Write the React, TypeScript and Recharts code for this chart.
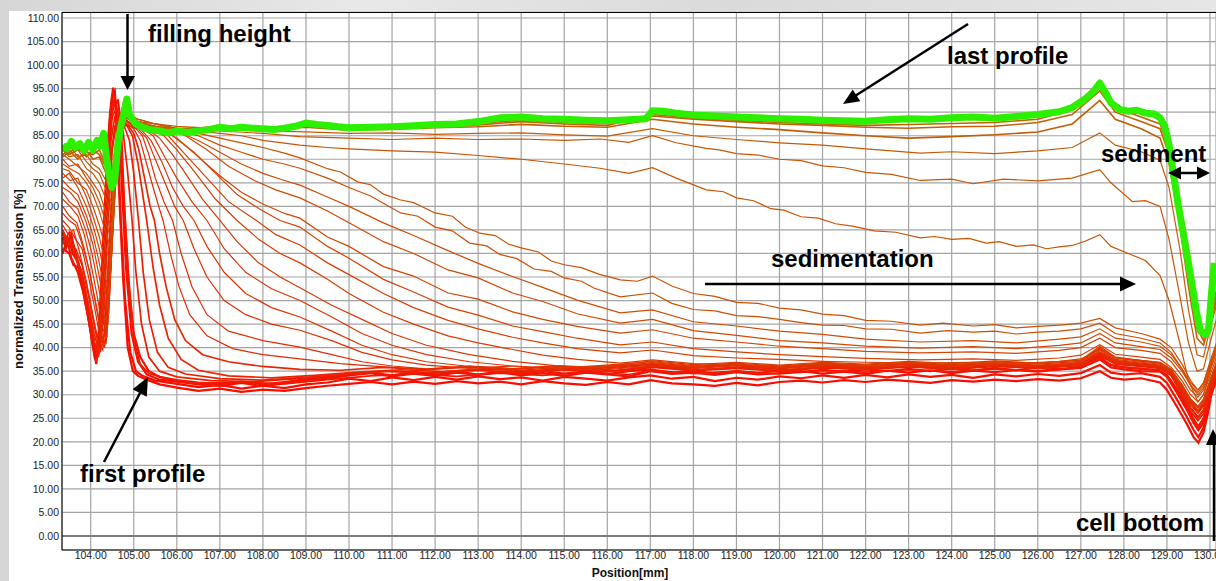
import React from 'react'
import { LineChart, Line, XAxis, YAxis, CartesianGrid, ReferenceLine } from 'recharts'

type Pt = [number, number]

const X_MIN = 103.333
const X_MAX = 130.14
const Y_MIN = -2.973
const Y_MAX = 111.274

const xTicks = [104, 105, 106, 107, 108, 109, 110, 111, 112, 113, 114, 115, 116, 117, 118, 119, 120, 121, 122, 123, 124, 125, 126, 127, 128, 129, 130]
const yTicks = [0, 5, 10, 15, 20, 25, 30, 35, 40, 45, 50, 55, 60, 65, 70, 75, 80, 85, 90, 95, 100, 105, 110]

// early profiles (red band)
const p00: Pt[] = [[103.35,63.5],[103.42,61],[103.5,63],[103.58,60],[103.68,58.5],[103.8,54],[103.92,48],[104.02,42],[104.1,37.5],[104.18,42],[104.28,60],[104.36,76],[104.45,90],[104.52,95.2],[104.58,91],[104.65,75],[104.75,55],[104.86,40],[104.98,35],[105.1,34],[105.3,33.2],[105.6,32.2],[106,31.5],[106.5,30.8],[107,31.3],[107.5,30.6],[108,31.1],[108.5,30.8],[109,31.4],[109.5,31.9],[110,32.3],[110.5,32.7],[111,32.2],[111.5,32.8],[112,32.3],[112.5,32.9],[113,32.4],[113.5,32.8],[114,32.2],[114.5,32.9],[115,32.4],[115.5,32.1],[116,32.7],[116.5,32.2],[117,33.1],[117.5,32.4],[118,32.2],[118.5,31.9],[119,32.5],[119.5,32],[120,32.7],[120.5,33],[121,32.6],[121.5,33.1],[122,32.7],[122.5,33.2],[123,32.9],[123.5,32.5],[124,33.1],[124.5,32.8],[125,33.2],[125.5,32.9],[126,33.3],[126.5,33],[127,33.5],[127.44,35],[127.7,33.6],[128,33.2],[128.4,33.5],[128.84,32.6],[129,31],[129.23,27.5],[129.45,24],[129.62,21],[129.73,19.8],[129.85,22],[129.95,26],[130.05,31],[130.15,34]]
const p01: Pt[] = [[103.35,64.5],[103.45,62],[103.55,64],[103.65,59.5],[103.78,56],[103.9,50],[104,44],[104.08,39],[104.13,36.5],[104.22,46],[104.32,68],[104.42,86],[104.5,93.5],[104.56,94.5],[104.62,85],[104.7,67],[104.8,50],[104.92,39],[105.05,35],[105.2,34],[105.5,33],[106,32.3],[106.5,31.6],[107,32.1],[107.5,31.3],[108,31.9],[108.5,31.4],[109,32.2],[109.5,32.6],[110,33.4],[110.5,32.9],[111,33.7],[111.5,33.1],[112,33.8],[112.5,33.2],[113,33.9],[113.5,33.3],[114,33.7],[114.5,33],[115,33.8],[115.5,33.4],[116,33],[116.5,33.7],[117,34.1],[117.5,33.4],[118,33.8],[118.5,32.9],[119,33.6],[119.5,33.2],[120,33.9],[120.5,33.5],[121,34.1],[121.5,33.6],[122,34.2],[122.5,33.7],[123,34.3],[123.5,33.8],[124,34.2],[124.5,33.6],[125,34.3],[125.5,33.9],[126,34.4],[126.5,34],[127,34.6],[127.44,36.3],[127.7,34.7],[128,34.3],[128.4,34.6],[128.84,33.8],[129,32.5],[129.23,29],[129.45,25.5],[129.62,22.5],[129.73,21],[129.85,23],[129.95,27],[130.05,31.5],[130.15,34.5]]
const p02: Pt[] = [[103.35,61],[103.5,60],[103.6,57.5],[103.72,57],[103.85,51],[103.97,45],[104.06,40],[104.12,38],[104.2,43],[104.3,63],[104.4,82],[104.48,91],[104.56,93],[104.64,89],[104.72,75],[104.82,57],[104.95,43],[105.1,37],[105.3,34.3],[105.6,33.2],[106,32.8],[106.5,32.2],[107,31.9],[107.5,32.5],[108,31.8],[108.5,32.4],[109,33],[109.5,33.4],[110,34.1],[110.5,34.6],[111,33.9],[111.5,34.5],[112,34],[112.5,34.7],[113,34.2],[113.5,34.8],[114,34.1],[114.5,34.6],[115,34],[115.5,34.7],[116,34.3],[116.5,33.9],[117,35],[117.5,34.4],[118,34.7],[118.5,34.2],[119,34.8],[119.5,34.3],[120,34.6],[120.5,35],[121,34.5],[121.5,34.9],[122,34.4],[122.5,35.1],[123,34.7],[123.5,35.2],[124,34.6],[124.5,35.1],[125,34.8],[125.5,35.2],[126,34.9],[126.5,35.4],[127,35.7],[127.44,37.5],[127.7,35.8],[128,35.4],[128.4,35],[128.84,34.9],[129,33.8],[129.23,30.5],[129.45,27],[129.62,24],[129.73,22.5],[129.85,24],[129.95,27.5],[130.05,32],[130.15,35]]
const p03: Pt[] = [[103.35,60],[103.45,63],[103.55,59],[103.7,56],[103.82,52],[103.95,46],[104.05,41],[104.15,38.5],[104.25,50],[104.35,72],[104.45,88],[104.55,92],[104.63,92.5],[104.7,88],[104.78,70],[104.88,54],[105,43],[105.15,38],[105.35,35],[105.6,33.8],[106,33.1],[106.5,32.6],[107,32.3],[107.5,32.8],[108,32.2],[108.5,32.7],[109,33.3],[109.5,33.8],[110,34.2],[110.5,34.7],[111,34.1],[111.5,34.8],[112,34.2],[112.5,34.9],[113,34.3],[113.5,34.9],[114,34.4],[114.5,35],[115,34.5],[115.5,34.9],[116,34.4],[116.5,35],[117,35.4],[117.5,34.7],[118,35.1],[118.5,34.5],[119,35],[119.5,34.6],[120,35.2],[120.5,34.8],[121,35.3],[121.5,34.9],[122,35.4],[122.5,35],[123,35.5],[123.5,35],[124,35.6],[124.5,35.1],[125,35.7],[125.5,35.2],[126,35.8],[126.5,35.4],[127,36],[127.44,38],[127.7,36.3],[128,35.8],[128.4,35.5],[128.84,35.2],[129,34.2],[129.23,31.2],[129.45,27.8],[129.62,24.8],[129.73,23.3],[129.85,25],[129.95,28.2],[130.05,32.5],[130.15,35.5]]

// steep early front profiles
const p04: Pt[] = [[103.35,62],[103.5,64.5],[103.62,60],[103.75,57],[103.9,50.5],[104.02,44],[104.12,39.5],[104.2,41],[104.3,58],[104.4,78],[104.5,89],[104.58,90.5],[104.66,88],[104.72,80],[104.8,67],[104.9,52],[105,42],[105.15,36.5],[105.35,34.5],[105.8,33.3],[106.5,32.4],[107.5,32.7],[108.5,32.3],[109.5,33.2],[110.5,34],[111.5,34.4],[112.5,33.9],[113.5,34.6],[114.5,34.1],[115.5,34.8],[116.5,34.3],[117,35.2],[118,34.5],[119,35],[120,34.4],[121,35.1],[122,34.8],[123,35.3],[124,34.9],[125,35.5],[126,35.1],[127,35.7],[127.44,37.6],[127.8,36],[128.4,35.6],[128.84,35.2],[129.1,33],[129.35,29],[129.55,25.5],[129.72,23],[129.85,24.5],[130,29],[130.15,33]]
const p05: Pt[] = [[103.35,63],[103.48,61.5],[103.6,62],[103.72,58],[103.85,53],[103.98,46],[104.1,40],[104.18,38],[104.27,47],[104.37,68],[104.47,84],[104.56,89],[104.65,88],[104.75,86],[104.85,78],[104.96,67],[105.05,56],[105.18,45],[105.35,38],[105.6,35],[106,33.8],[106.8,33],[107.8,32.8],[108.8,33.4],[109.8,34.3],[110.8,35],[111.8,34.6],[112.8,35.3],[113.8,34.8],[114.8,35.4],[115.8,34.9],[116.8,35.5],[117.05,36],[118,35.2],[119,35.7],[120,35.1],[121,35.8],[122,35.4],[123,36],[124,35.5],[125,36.1],[126,35.7],[127,36.3],[127.44,38.3],[127.8,36.6],[128.4,36.1],[128.84,35.8],[129.1,34],[129.35,30],[129.55,26.5],[129.72,24.5],[129.85,26],[130,30],[130.15,34]]
const p06: Pt[] = [[103.35,64],[103.5,62.5],[103.65,60],[103.8,55],[103.95,48],[104.08,41.5],[104.17,38],[104.26,44],[104.36,62],[104.46,80],[104.56,87],[104.66,88.5],[104.78,87],[104.9,84],[105,77],[105.11,67],[105.22,56],[105.36,46],[105.55,39],[105.8,35.8],[106.2,34.4],[107,33.4],[108,33.1],[109,33.7],[110,34.4],[111,35],[112,34.6],[113,35.2],[114,34.7],[115,35.3],[116,34.9],[117.05,35.8],[118,35.1],[119,35.6],[120,35],[121,35.7],[122,35.3],[123,35.9],[124,35.4],[125,36],[126,35.6],[127,36.2],[127.44,38.4],[127.8,36.5],[128.4,36],[128.84,35.6],[129.1,34.3],[129.35,30.8],[129.55,27.3],[129.72,25.3],[129.85,26.8],[130,30.8],[130.15,34.8]]
const p07: Pt[] = [[103.35,62.5],[103.5,63.5],[103.65,59],[103.8,56],[103.95,49],[104.08,43],[104.2,39],[104.3,46],[104.4,66],[104.5,82],[104.6,88],[104.72,87.5],[104.85,87],[104.97,85],[105.1,79],[105.2,73],[105.3,67],[105.45,57],[105.6,49],[105.8,42],[106.1,37.5],[106.5,35.2],[107.2,34],[108.2,33.6],[109.2,34.1],[110.2,34.8],[111.2,35.3],[112.2,34.9],[113.2,35.5],[114.2,35],[115.2,35.6],[116.2,35.1],[117.05,36.1],[118.2,35.4],[119.2,35.9],[120.2,35.3],[121.2,36],[122.2,35.6],[123.2,36.2],[124.2,35.7],[125.2,36.3],[126.2,35.9],[127,36.5],[127.44,38.8],[127.8,36.9],[128.4,36.3],[128.84,35.9],[129.1,34.6],[129.35,31.3],[129.55,28.3],[129.72,26.3],[129.85,27.8],[130,31.8],[130.15,35.3]]

// transitional profiles fanning out
const p08: Pt[] = [[103.35,65],[103.5,62],[103.65,61],[103.8,57.5],[103.95,51],[104.1,44],[104.22,39],[104.32,43],[104.42,60],[104.52,78],[104.62,86],[104.75,88],[104.88,87],[105,85.5],[105.12,82],[105.25,76],[105.38,70],[105.48,67],[105.6,60],[105.75,53],[105.95,46],[106.2,41.5],[106.6,38.5],[107.2,37],[108,36],[108.86,35.4],[109.8,35.2],[110.8,35.8],[111.8,35.4],[112.8,36],[113.8,35.5],[114.8,36.1],[115.8,35.6],[117.05,36.5],[118,35.8],[119,36.3],[120,35.7],[121,36.3],[122,35.9],[123,36.5],[124,36],[125,36.6],[126,36.1],[127,36.7],[127.44,39],[127.8,37.1],[128.4,36.5],[128.84,36.1],[129.1,34.8],[129.35,31.5],[129.55,28.5],[129.72,26.5],[129.85,28],[130,32],[130.15,35.5]]
const p09: Pt[] = [[103.35,66],[103.48,64],[103.6,65],[103.75,60],[103.9,54],[104.05,47],[104.18,41],[104.28,39.5],[104.38,52],[104.48,72],[104.58,84],[104.7,88],[104.85,87.5],[105,86.5],[105.15,84],[105.3,79],[105.45,74],[105.58,70],[105.68,67],[105.85,60],[106.05,53],[106.3,47],[106.7,42.5],[107.3,39.8],[108,38.5],[108.86,37.6],[109.8,36.6],[110.8,35.9],[111.8,35.3],[112.8,35.8],[113.8,35.1],[114.8,35.7],[115.8,35.2],[117.05,36.1],[118,35.3],[119,35.8],[120,35.2],[121,35.9],[122,35.4],[123,36],[124,35.5],[125,36.1],[126,35.6],[127,36.3],[127.44,38.6],[127.8,36.7],[128.4,36.1],[128.84,35.7],[129.1,34.2],[129.35,30.5],[129.55,27],[129.72,25],[129.85,26.5],[130,30.5],[130.15,34.5]]
const p10: Pt[] = [[103.35,67],[103.5,65.5],[103.65,63],[103.8,61],[103.95,55],[104.1,48],[104.22,42],[104.32,40],[104.42,55],[104.52,75],[104.62,86],[104.75,88.5],[104.9,87.5],[105.05,86.5],[105.2,85],[105.35,81],[105.5,76],[105.7,71],[105.9,67],[106.1,60],[106.35,53],[106.7,47],[107.2,43.5],[108,41.5],[108.86,40.1],[109.6,38.5],[110.3,37],[111,36.1],[111.8,35.5],[112.8,36],[113.8,35.4],[114.8,35.9],[115.8,35.4],[117.05,36.3],[118,35.6],[119,36.1],[120,35.5],[121,36.1],[122,35.7],[123,36.2],[124,35.8],[125,36.4],[126,35.9],[127,36.5],[127.44,39],[127.8,37],[128.4,36.4],[128.84,36],[129.1,34.5],[129.35,31],[129.55,27.8],[129.72,26],[129.85,27.5],[130,31.5],[130.15,35]]
const p11: Pt[] = [[103.35,68.5],[103.5,67],[103.65,66],[103.8,62],[103.95,57],[104.1,50],[104.22,44],[104.33,40.5],[104.43,52],[104.53,72],[104.63,85],[104.75,88],[104.9,87],[105.1,86.5],[105.3,84.5],[105.5,80],[105.75,74.5],[105.95,70],[106.15,67],[106.4,61],[106.7,55],[107.1,50],[107.6,47],[108.2,45],[108.86,43.7],[109.6,41.5],[110.3,39],[111,37.4],[111.8,36.3],[112.8,35.6],[113.8,36.1],[114.8,35.5],[115.8,36],[117.05,36.6],[118,35.8],[119,36.3],[120,35.7],[121,36.3],[122,35.9],[123,36.5],[124,36],[125,36.6],[126,36.1],[127,36.7],[127.44,39.4],[127.8,37.3],[128.4,36.7],[128.84,36.3],[129.1,34.8],[129.35,31.3],[129.55,28.2],[129.72,26.4],[129.85,28],[130,32],[130.15,35.5]]
const p12: Pt[] = [[103.35,70],[103.5,68],[103.68,66.5],[103.85,61],[104,55],[104.15,48],[104.27,42],[104.36,41],[104.46,58],[104.56,78],[104.66,87],[104.78,88.5],[104.95,87.5],[105.15,86.5],[105.4,84],[105.65,79.5],[105.9,74],[106.15,70],[106.4,67],[106.7,61.5],[107.1,56],[107.6,51.5],[108.2,48.5],[108.86,46.5],[109.6,43.5],[110.3,40.5],[111,38.5],[111.8,37],[112.8,36],[113.8,35.5],[114.8,36.1],[115.8,35.7],[117.05,36.8],[118,36],[119,36.5],[120,35.9],[121,36.5],[122,36.1],[123,36.7],[124,36.2],[125,36.8],[126,36.3],[127,36.9],[127.44,39.7],[127.8,37.5],[128.4,36.9],[128.84,36.5],[129.1,35],[129.35,31.6],[129.55,28.5],[129.72,26.8],[129.85,28.3],[130,32.3],[130.15,36]]
const p13: Pt[] = [[103.35,71.5],[103.52,70],[103.7,68],[103.85,64],[104,58],[104.15,51],[104.28,44],[104.38,42.5],[104.48,60],[104.58,80],[104.68,88],[104.8,88.5],[105,87],[105.2,86.5],[105.45,85],[105.75,80],[106,76],[106.35,71],[106.7,67],[107.1,61],[107.6,56],[108.2,52.5],[108.86,50],[109.6,46.5],[110.3,43],[111,40.5],[111.8,38.5],[112.8,37],[113.8,36.1],[114.8,35.6],[115.8,36.2],[117.05,37],[118,36.2],[119,36.7],[120,36.1],[121,36.7],[122,36.3],[123,36.9],[124,36.4],[125,37],[126,36.5],[127,37.1],[127.44,40],[127.8,37.8],[128.4,37.1],[128.84,36.7],[129.1,35.2],[129.35,31.9],[129.55,28.8],[129.72,27.2],[129.85,28.6],[130,32.6],[130.15,36.3]]
const p14: Pt[] = [[103.35,73],[103.5,71],[103.7,69.5],[103.88,65],[104.03,60],[104.18,53],[104.3,47],[104.4,45],[104.5,63],[104.6,82],[104.7,88.5],[104.85,88],[105.05,87],[105.3,86.5],[105.6,84.5],[105.9,81],[106.2,77],[106.6,71.5],[107,67],[107.4,62.5],[107.9,58],[108.4,55],[108.86,52.7],[109.6,49],[110.3,46],[111,43],[111.8,40.5],[112.8,38.5],[113.8,37.1],[114.8,36.2],[115.8,35.8],[117.05,37.2],[118,36.4],[119,36.9],[120,36.3],[121,36.9],[122,36.5],[123,37.1],[124,36.6],[125,37.2],[126,36.7],[127,37.3],[127.44,40.3],[127.8,38],[128.4,37.3],[128.84,36.9],[129.1,35.4],[129.35,32.2],[129.55,29.1],[129.72,27.5],[129.85,29],[130,33],[130.15,36.6]]
const p15: Pt[] = [[103.35,74],[103.52,73],[103.7,71],[103.88,67],[104.05,62],[104.2,55],[104.32,49],[104.42,47.5],[104.52,66],[104.62,84],[104.72,89],[104.88,88],[105.1,87],[105.35,86.5],[105.7,85],[106,82],[106.4,77.5],[106.9,71.5],[107.4,67],[107.9,63],[108.4,60],[108.86,58],[109.5,54.5],[110,51.5],[110.8,47.5],[111.5,45],[112.3,42.5],[113,41],[113.8,39.6],[114.5,38.4],[115.3,37.5],[116.3,36.7],[117.05,37.4],[118,36.6],[119,36.4],[120,36.1],[121,36.6],[122,36.3],[123,36.9],[124,36.4],[125,37],[126,36.7],[127,37.4],[127.44,39.8],[127.8,37.9],[128.4,37.2],[128.84,36.8],[129.1,35.2],[129.35,32],[129.55,29],[129.72,27.3],[129.85,28.8],[130,32.8],[130.15,36.5]]
const p16: Pt[] = [[103.35,75.5],[103.5,74],[103.7,72.5],[103.9,68],[104.05,64],[104.2,58],[104.33,52],[104.43,50],[104.53,68],[104.63,85],[104.73,89],[104.9,88.5],[105.1,87.5],[105.4,86.5],[105.8,85],[106.2,81],[106.7,76],[107.2,71],[107.85,67],[108.3,64],[108.86,61.8],[109.5,58],[110,55.5],[110.8,51.5],[111.5,48.5],[112.3,45.8],[113,44],[113.8,42.2],[114.5,41],[115.3,39.8],[116.3,38.9],[117.05,39.5],[118,38.3],[119,37.8],[120,37.5],[121,37.1],[122,36.9],[123.27,36.7],[124.5,36.9],[125.5,36.6],[126.5,37.1],[127,37.6],[127.44,39.6],[127.8,37.8],[128.4,37.3],[128.84,36.8],[129.1,35],[129.35,32],[129.55,29],[129.72,27.5],[129.85,29],[130,33],[130.15,37]]
const p17: Pt[] = [[103.35,76],[103.5,77],[103.7,74],[103.9,70],[104.05,66],[104.2,61],[104.33,55],[104.44,52.5],[104.55,70],[104.65,86],[104.76,89.5],[104.95,88],[105.2,87.5],[105.5,86.5],[105.9,85],[106.4,81.5],[106.9,77],[107.4,72.5],[108,69],[108.4,67],[108.86,65.6],[109.5,61.5],[110,59],[110.8,54.5],[111.5,51.8],[112.3,48.6],[113,46.9],[113.8,44.6],[114.5,43.4],[115.3,42],[116.3,40.6],[117.05,41.2],[118,39.8],[119,39.1],[120,38.5],[121,38.1],[122,37.7],[123.27,37.4],[124.5,37.6],[125.5,37.3],[126.5,37.8],[127,38.4],[127.44,40.6],[127.8,38.6],[128.4,38],[128.84,37.5],[129.1,35.8],[129.35,33],[129.55,30],[129.72,28.5],[129.85,30],[130,34],[130.15,38]]
const p18: Pt[] = [[103.35,77],[103.52,75.5],[103.7,76],[103.9,72],[104.05,68],[104.2,63.5],[104.34,58],[104.45,55],[104.56,72],[104.66,87],[104.78,89],[105,88],[105.3,87],[105.6,86.5],[106,84.5],[106.5,80.5],[107,76.5],[107.5,73],[108,70.5],[108.5,68.5],[108.86,67.5],[109.5,63.5],[110,61.5],[110.8,57.2],[111.5,55.2],[112.3,51.6],[113,50.3],[113.8,47.6],[114.5,46],[115.3,44.5],[116.3,43.1],[117.05,43.8],[118,42],[119,41.2],[120,40.3],[121,39.8],[122,39.2],[123.27,38.9],[124.5,39.1],[125.5,38.8],[126.5,39.4],[127,40],[127.44,42],[127.8,40],[128.4,39.4],[128.84,38.8],[129.1,37],[129.35,34],[129.55,31],[129.72,29.5],[129.85,31],[130,35],[130.15,39]]
const p19: Pt[] = [[103.35,78],[103.5,77.5],[103.7,75],[103.9,73.5],[104.05,70],[104.2,66],[104.35,61],[104.46,58],[104.57,74],[104.67,87.5],[104.8,89.5],[105.05,88],[105.4,87],[105.8,86.5],[106.2,85],[106.7,82],[107.2,78.5],[107.8,75.5],[108.3,73.5],[108.86,71.8],[109.5,69],[110,66.5],[110.8,62.5],[111.5,60],[112.3,56.5],[113,54.8],[113.8,51.6],[114.5,49.8],[115.3,47.2],[116.3,45.2],[117.05,46],[118,43.6],[119,42.6],[120,41.5],[121,41],[122,40.3],[123.27,39.9],[124.5,40.2],[125.5,39.8],[126.5,40.5],[127,41],[127.44,43],[127.8,41],[128.4,40.2],[128.84,39.6],[129.1,37.8],[129.35,35],[129.55,32],[129.72,30.5],[129.85,32],[130,36],[130.15,40]]
const p20: Pt[] = [[103.35,79],[103.52,78],[103.72,77],[103.9,75],[104.05,72.5],[104.2,69],[104.36,64],[104.47,61],[104.58,76],[104.68,88],[104.82,89],[105.1,88],[105.5,87],[106,86],[106.5,84],[107,81.5],[107.5,79],[108,77],[108.5,75.5],[108.86,74.5],[109.5,72],[110,70],[110.8,66.5],[111.5,63.8],[112.3,60.6],[113,57.9],[113.8,55.1],[114.5,52.8],[115.3,50.1],[116.3,47.4],[117.05,48],[118,45.5],[119,44.6],[120,43.5],[121,42.8],[122,41.8],[123.27,41.2],[124.5,41.5],[125.5,41],[126.5,41.8],[127,42.3],[127.44,44],[127.8,42],[128.4,41.2],[128.84,40.3],[129.1,38.5],[129.35,35.5],[129.55,32.5],[129.72,31],[129.85,32.5],[130,36.5],[130.15,40.5]]
const p21: Pt[] = [[103.35,80],[103.5,78.5],[103.7,79],[103.9,76],[104.05,74],[104.2,71],[104.37,66],[104.48,63],[104.59,78],[104.7,88.5],[104.84,89],[105.1,88],[105.5,87],[106,86],[106.5,85],[107,83],[107.5,81.5],[108,80],[108.5,79],[108.86,78.1],[109.5,76],[110,74],[110.5,72.2],[111.2,68.6],[111.6,67.9],[112,65.6],[112.4,64.8],[112.8,62.2],[113.2,61.6],[113.5,59.8],[113.9,58.9],[114.3,56.7],[114.7,56.2],[115,54.8],[115.4,54.1],[115.7,52.6],[116.3,50.8],[117.05,51.6],[117.5,49.4],[118,48.1],[118.5,47.8],[119,46.8],[119.5,46.6],[120,46],[120.5,45.3],[121,44.8],[121.5,44.7],[122,44],[122.6,43.9],[123.27,43.1],[123.9,43.6],[124.5,43.3],[125,43.5],[125.5,42.9],[126,43.3],[126.5,43.5],[127,44],[127.44,45.2],[127.8,43],[128.4,42],[128.84,41],[129.1,39],[129.35,35.5],[129.55,32],[129.72,30],[129.85,31.5],[130,35.5],[130.15,40]]
const p22: Pt[] = [[103.35,81],[103.5,80],[103.7,78.5],[103.9,77],[104.05,75],[104.2,73],[104.38,68],[104.5,65],[104.6,79],[104.72,89],[104.86,89.5],[105.1,88.5],[105.5,87.5],[106,86.5],[106.5,85.5],[107,84.5],[107.5,83.5],[108,82.5],[108.5,81.3],[108.86,80.3],[109.5,78],[109.8,77.3],[110.2,75.2],[110.5,74.6],[110.8,72.6],[111.18,71.4],[111.5,70.8],[112,68.6],[112.4,67.9],[112.7,65.6],[113.04,64.3],[113.4,63.8],[113.7,62],[114,61.2],[114.4,60.3],[114.7,58.4],[115,57.6],[115.4,57],[115.8,55.6],[116.3,54.4],[116.7,54.1],[117.05,55.2],[117.5,53.1],[118,51.5],[118.5,50.9],[119,49.6],[119.5,49.4],[120,48.4],[120.5,48],[121,47.1],[121.5,46.8],[122,45.8],[122.6,45.6],[123.27,44.8],[123.8,45.2],[124.5,44.6],[125,44.9],[125.5,44.2],[126,44.5],[126.5,44.8],[127,45.2],[127.44,46.2],[127.8,44.2],[128.4,43],[128.84,41.8],[129.1,40],[129.35,36.5],[129.55,33],[129.72,31],[129.85,32.5],[130,37],[130.15,41]]

// late profiles near the top
const p23: Pt[] = [[103.35,82],[103.5,80.5],[103.7,81],[103.9,78],[104.05,77],[104.2,75],[104.38,71],[104.5,68],[104.62,82],[104.74,90],[104.88,89.5],[105.1,88.5],[105.5,87.5],[106,86.5],[106.5,86],[107,85.5],[107.5,85],[108,84],[108.86,83],[109.5,82.5],[110,82.2],[111,81.8],[112,81.5],[113,80.8],[114,80],[115,79],[115.83,78.1],[116.5,77],[117.05,78.2],[117.6,76],[118.3,73.5],[118.7,73.1],[119,71.8],[119.4,71.2],[119.8,69.5],[120.1,69.2],[120.5,67.8],[120.9,67.5],[121.3,66.3],[121.7,65.8],[122.2,64.8],[122.7,64.5],[123.27,63.3],[123.6,63.6],[124,63],[124.4,63.2],[124.8,62.2],[125.1,62.5],[125.5,61.5],[125.9,61.8],[126.2,61],[126.5,61.4],[126.8,61.7],[127.1,62.6],[127.44,64],[127.7,61.5],[128.1,60],[128.5,58.5],[128.84,55.3],[129.05,50],[129.3,41],[129.5,33],[129.72,28.5],[129.85,30],[130,35],[130.15,40]]
const p24: Pt[] = [[103.35,83],[103.5,81],[103.7,82],[103.9,79.5],[104.05,78],[104.2,77],[104.38,73],[104.5,70.5],[104.62,83],[104.74,90.5],[104.88,89],[105.1,88],[105.5,87.5],[106,86.5],[107,86],[108,85.5],[108.86,84.8],[110,84.5],[111,84.2],[112,84.5],[113,84.2],[114,84.3],[115,84],[115.83,84.3],[116.5,83.6],[117.05,85],[117.6,83.5],[118.3,82.3],[118.6,82],[119,81.2],[119.5,80.9],[120,80],[120.5,79.7],[121,78.6],[121.5,78.2],[122,77.2],[122.6,76.8],[123.27,75.5],[124,75.8],[124.5,74.8],[125.2,75.8],[126,75.4],[126.8,76],[127.44,77.8],[127.7,75],[128.2,71],[128.5,71.2],[128.84,70],[129.05,63],[129.3,51],[129.5,41],[129.7,35],[129.85,35.5],[130,41],[130.15,46]]
const p25: Pt[] = [[103.35,82.5],[103.5,83],[103.7,80.5],[103.9,81],[104.05,79],[104.2,78],[104.38,75],[104.5,73],[104.62,85],[104.75,91],[104.9,89],[105.1,88.5],[105.5,87.5],[106,87],[107,86.5],[108,86],[109,85.8],[110,85.5],[111,85.6],[112,85.3],[113,85.5],[114,85.6],[115,85.2],[116,84.9],[117.05,86.5],[118,85],[119,84.2],[120,83.5],[121,83],[122,82.2],[123.27,81.3],[124,81.6],[125,81.2],[126,81.8],[126.8,82.5],[127.44,85.6],[127.8,83],[128.4,81.6],[128.84,79.8],[129.05,74],[129.3,61],[129.5,48],[129.7,38.5],[129.85,38],[130,44],[130.15,49]]
const p26: Pt[] = [[103.35,81],[103.5,82],[103.7,80],[103.9,82],[104.05,80],[104.2,80.5],[104.4,76],[104.5,75],[104.62,86],[104.76,91.5],[104.92,88.5],[105.1,87.5],[105.5,87],[106,86.5],[107,86.8],[108,86.4],[109,86.8],[110,86.2],[111,86.4],[112,86.7],[113,86.9],[114,87.4],[115,87],[116,86.8],[117.05,88.5],[118,87.5],[119,86.8],[120,86.3],[121,85.6],[122,85],[123,84.5],[124,84.8],[125,85.2],[126,85.8],[126.8,87.5],[127.44,92.5],[127.8,88.5],[128.4,86.5],[128.84,84.5],[129.05,79],[129.3,66],[129.5,53],[129.7,42],[129.85,40.5],[130,45],[130.15,50]]
const p27: Pt[] = [[103.35,80.5],[103.5,81.5],[103.7,82.5],[103.9,80.5],[104.05,82],[104.2,81],[104.4,77.5],[104.5,76],[104.62,85],[104.76,92],[104.92,89],[105.1,88],[105.5,86.8],[106,86.3],[107,87],[108,86.7],[109,87.3],[110,86.8],[111,86.9],[112,87.2],[113,87.6],[114,88.3],[115,87.8],[116,87.6],[117.05,89.2],[118,88.5],[119,88],[120,87.5],[121,87.2],[122,86.8],[123,86.6],[124,86.9],[125,87],[126,87.8],[126.8,89.5],[127.44,94.5],[127.8,90],[128.4,88],[128.84,86.5],[129.05,81],[129.3,68],[129.5,55],[129.7,44],[129.85,41.5],[130,46],[130.15,51]]
const p28: Pt[] = [[103.35,82],[103.5,81],[103.7,82],[103.9,81.5],[104.05,81],[104.2,82],[104.4,78],[104.5,77],[104.62,86],[104.78,92.5],[104.92,89.5],[105.1,88],[105.5,86.5],[106,86],[107,86.5],[108,86.2],[109,87],[110,86.3],[111,86.5],[112,86.8],[113,87.3],[114,88],[115,87.5],[116,87.2],[117.05,89.5],[118,88.7],[119,88.3],[120,87.8],[121,87.5],[122,87.2],[123,87.4],[124,87.6],[125,87.8],[126,88.5],[126.8,90.5],[127.44,95.5],[127.8,91],[128.4,89],[128.84,87.5],[129.05,82.5],[129.3,70],[129.5,57],[129.7,46],[129.85,42.5],[130,47],[130.15,52]]

// last profile (green)
const lastProfile: Pt[] = [[103.35,83],[103.45,82.2],[103.55,83.8],[103.65,82.5],[103.75,83.3],[103.85,81.8],[103.95,83.6],[104.05,82],[104.15,84],[104.22,82.8],[104.3,85.5],[104.36,81],[104.42,77],[104.49,74],[104.56,76],[104.63,83],[104.7,87],[104.78,90],[104.84,92.8],[104.9,89.5],[104.97,88.5],[105.05,87.5],[105.2,86.8],[105.4,86.2],[105.6,86],[105.8,85.6],[106,86],[106.25,85.7],[106.5,86],[106.75,86.3],[107,86.8],[107.25,86.5],[107.5,86.8],[107.75,86.6],[108,86.5],[108.25,86.3],[108.5,86.6],[108.75,87],[109,87.7],[109.25,87.4],[109.5,87.2],[109.75,86.9],[110,86.7],[110.5,86.8],[111,86.9],[111.5,87.1],[112,87.4],[112.5,87.5],[113,88],[113.5,88.8],[114,89],[114.5,88.6],[115,88.5],[115.5,88.3],[116,88.2],[116.5,88.4],[116.9,88.6],[117.05,90.3],[117.3,90.2],[117.6,89.8],[118,89.4],[118.5,89.2],[119,89],[119.5,88.8],[120,88.6],[120.5,88.5],[121,88.3],[121.5,88.2],[122,88.1],[122.5,88.4],[123,88.6],[123.5,88.5],[124,88.8],[124.5,89],[125,88.7],[125.5,89.1],[126,89.5],[126.5,90.1],[126.8,91],[127.1,92.8],[127.3,94.5],[127.44,96.2],[127.55,94.5],[127.7,92],[127.9,90.6],[128.1,90.2],[128.3,90.4],[128.5,89.8],[128.7,89.6],[128.84,88.8],[128.95,87],[129.05,83],[129.14,77.7],[129.25,71],[129.38,64.3],[129.54,55.8],[129.69,47.4],[129.78,43.5],[129.9,42.8],[129.97,44],[130.04,52],[130.1,58]]

const profiles: Pt[][] = [p00, p01, p02, p03, p04, p05, p06, p07, p08, p09, p10, p11, p12, p13, p14, p15, p16, p17, p18, p19, p20, p21, p22, p23, p24, p25, p26, p27, p28]

const toRows = (pts: Pt[]) => pts.map(([x, y]) => ({ x, y }))

// red for the first profiles, shading to brown-orange for the later ones
function profileColor(i: number) {
  const t = i / (profiles.length - 1)
  const r = Math.round(250 - 58 * t)
  const g = Math.round(12 + 88 * t)
  const b = Math.round(6 * t)
  return `rgb(${r},${g},${b})`
}

function profileWidth(i: number) {
  if (i < 4) return 2.2
  if (i < 9) return 1.7
  if (i >= 26) return 1.6
  return 1.2
}

const font = '"Liberation Sans", Arial, sans-serif'
const tickStyle = { fontSize: 10.5, fill: '#222', fontFamily: font }

export default function App() {
  return (
    <div style={{ position: 'absolute', left: 0, top: 0, width: 1216, height: 581, overflow: 'hidden', background: 'linear-gradient(90deg, #d6d6d6, #e8e8e8 30%, #dadada 60%, #e6e6e6)' }}>
      <div style={{ position: 'absolute', left: 9, top: 11, right: 0, bottom: 0, background: '#fff' }} />
      <div style={{ position: 'absolute', left: 0, top: 0 }}>
        <LineChart width={1216} height={581} margin={{ top: 12, right: 0, bottom: 0, left: 0 }}>
          <CartesianGrid stroke="#a4a4a4" strokeWidth={1.2} />
          <XAxis
            dataKey="x"
            type="number"
            domain={[X_MIN, X_MAX]}
            ticks={xTicks}
            allowDataOverflow
            height={31}
            tickSize={0}
            tickMargin={2}
            tickLine={false}
            tick={tickStyle}
            tickFormatter={(v: number) => v.toFixed(2)}
            stroke="#000"
            interval={0}
          />
          <YAxis
            type="number"
            domain={[Y_MIN, Y_MAX]}
            ticks={yTicks}
            allowDataOverflow
            width={62}
            tickSize={0}
            tickMargin={3}
            tickLine={false}
            tick={tickStyle}
            tickFormatter={(v: number) => v.toFixed(2)}
            stroke="#000"
            interval={0}
          />
          <ReferenceLine y={0} stroke="#7c7c7c" strokeWidth={2} />
          {profiles.map((p, i) => (
            <Line
              key={i}
              data={toRows(p)}
              dataKey="y"
              type="linear"
              stroke={profileColor(i)}
              strokeWidth={profileWidth(i)}
              dot={false}
              activeDot={false}
              isAnimationActive={false}
            />
          ))}
          <Line
            data={toRows(lastProfile)}
            dataKey="y"
            type="linear"
            stroke="#2cf000"
            strokeWidth={7}
            strokeLinejoin="round"
            dot={false}
            activeDot={false}
            isAnimationActive={false}
          />
        </LineChart>
      </div>
      <svg width={1216} height={581} style={{ position: 'absolute', left: 0, top: 0, pointerEvents: 'none' }}>
        <line x1={62} y1={12.5} x2={1216} y2={12.5} stroke="#000" strokeWidth={1.2} />
        <text transform="translate(23,279) rotate(-90)" textAnchor="middle" fontFamily={font} fontWeight="bold" fontSize={13} fill="#111">normalized Transmission [%]</text>
        <text x={630} y={577} textAnchor="middle" fontFamily={font} fontWeight="bold" fontSize={12} fill="#111">Position[mm]</text>

        <g fontFamily={font} fontWeight="bold" fontSize={24} fill="#000">
          <text x={148} y={42}>filling height</text>
          <text x={947} y={64}>last profile</text>
          <text x={1101} y={162}>sediment</text>
          <text x={771} y={267}>sedimentation</text>
          <text x={80} y={482}>first profile</text>
          <text x={1076} y={531}>cell bottom</text>
        </g>

        <g stroke="#000" strokeWidth={2.5} fill="#000">
          <line x1={127.5} y1={14} x2={127.5} y2={78} />
          <polygon points="120.5,76 135,76 127.5,90" stroke="none" />

          <line x1={968} y1={24} x2={855} y2={96} />
          <polygon points="843,104 860.3,101.3 852.7,89.5" stroke="none" />

          <line x1={705} y1={284} x2={1122} y2={284} />
          <polygon points="1120,276.5 1120,291.5 1136,284" stroke="none" />

          <line x1={1178} y1={173} x2={1200} y2={173} />
          <polygon points="1168,173 1181,166.5 1181,179.5" stroke="none" />
          <polygon points="1210,173 1197,166.5 1197,179.5" stroke="none" />

          <line x1={104} y1={462} x2={140} y2={393} />
          <polygon points="148,377 146.8,396.7 132.6,389.3" stroke="none" />

          <line x1={1214} y1={541} x2={1214} y2={443} />
          <polygon points="1213,429 1206,445 1221,445" stroke="none" />
        </g>
      </svg>
    </div>
  )
}
